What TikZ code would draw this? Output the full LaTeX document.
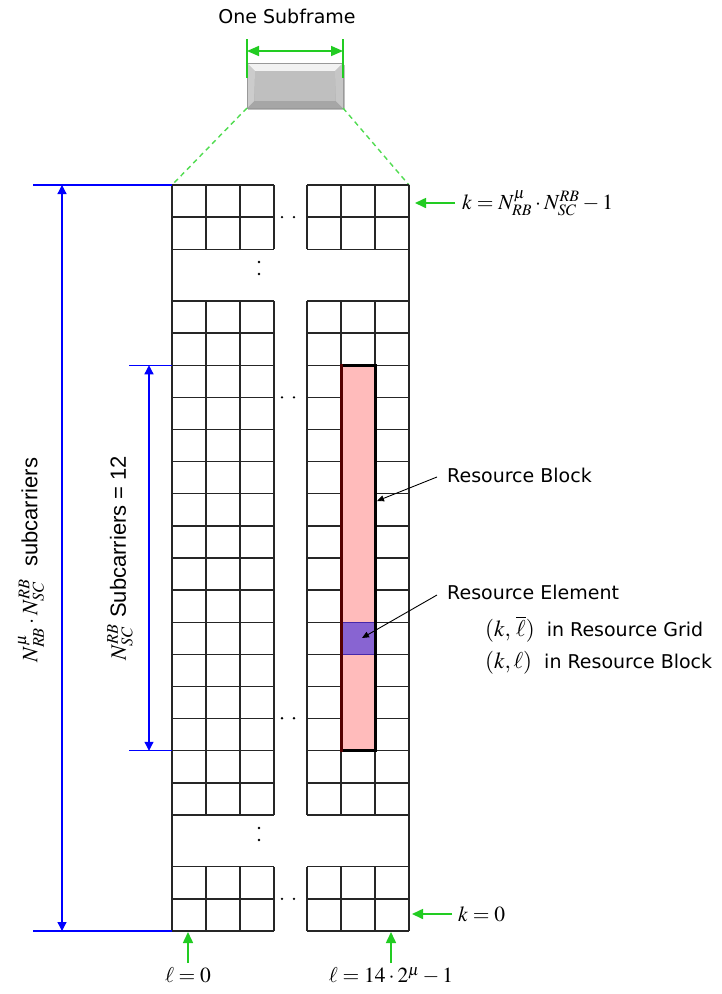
\documentclass[tikz,border=0pt]{standalone}
\usepackage{mathptmx}
\usepackage{fontspec}
\setmainfont{DejaVu Sans}
\newfontfamily\arialf{Liberation Sans}
\usetikzlibrary{arrows.meta}
\definecolor{gr}{RGB}{34,204,34}
\definecolor{grd}{RGB}{80,220,80}
\definecolor{bl}{RGB}{0,0,255}
\definecolor{pinkf}{RGB}{255,187,187}
\definecolor{maroonb}{RGB}{85,0,0}
\definecolor{purf}{RGB}{136,100,210}
\definecolor{purb}{RGB}{70,40,170}
\def\cw{34}
\def\ch{32.125}
\newcommand\gblock[3]{%
  \foreach \i in {0,...,#3} \draw[gl] (#1,{#2+\i*\ch}) -- ({#1+3*\cw},{#2+\i*\ch});
  \foreach \j in {0,...,3} \draw[gl] ({#1+\j*\cw},#2) -- ({#1+\j*\cw},{#2+#3*\ch});
}
\newcommand\mybigmath[1]{{\fontsize{23}{26}\selectfont$#1$}}
\tikzset{
  gl/.style={line width=1.3pt, black!85},
  lbl/.style={font=\fontsize{19}{22}\selectfont, inner sep=0pt},
  mlbl/.style={font=\fontsize{21.5}{24}\selectfont, inner sep=0pt},
  rlbl/.style={font=\arialf\fontsize{22}{26}\selectfont, inner sep=0pt, rotate=90},
  garrow/.style={draw=gr, line width=1.6pt, -{Triangle[length=11pt,width=10pt]}},
  barrow/.style={draw=bl, line width=1.3pt, {Triangle[length=9pt,width=9pt]}-{Triangle[length=9pt,width=9pt]}},
  btick/.style={draw=bl, line width=1.3pt},
  carrow/.style={draw=black, line width=0.9pt, -{Triangle[length=7pt,width=6pt]}},
  dotm/.style={fill=black, circle, inner sep=0pt, minimum size=2.6pt},
}
\begin{document}
\begin{tikzpicture}[x=1pt,y=-1pt]
\useasboundingbox (0,0) rectangle (721,994);
\fill[white] (0,0) rectangle (721,994);

% ---- subframe box
\fill[black!25] (248,65) rectangle (345,110);
\fill[gray!55] (247,63) rectangle (343,108);
\fill[gray!10] (247,63) -- (343,63) -- (335,71) -- (255,71) -- cycle;
\fill[gray!70] (247,108) -- (343,108) -- (336,101) -- (254,101) -- cycle;
\fill[gray!45] (343,63) -- (343,108) -- (336,101) -- (335,71) -- cycle;
\fill[gray!40] (247,63) -- (247,108) -- (254,101) -- (255,71) -- cycle;
\fill[gray!50] (255,71) rectangle (335,101);
\draw[gray!80, line width=0.8pt] (247,63) rectangle (343,108);
\node[lbl] (title) at (287,16) {One Subframe};
\coordinate (sfl) at (247,51);
\coordinate (sfr) at (343,51);
\draw[gr, line width=1.6pt] (247,39) -- (247,78);
\draw[gr, line width=1.6pt] (343,39) -- (343,78);
\draw[draw=gr, line width=1.6pt, {Triangle[length=12pt,width=10pt]}-{Triangle[length=12pt,width=10pt]}] (sfl) -- (sfr);
\coordinate (sfbl) at (247,108);
\coordinate (sfbr) at (343,108);
\coordinate (gtl) at (172,185);
\coordinate (gtr) at (409,185);
\draw[grd, line width=1.4pt, dash pattern=on 5pt off 4pt] (sfbl) -- (gtl);
\draw[grd, line width=1.4pt, dash pattern=on 5pt off 4pt] (sfbr) -- (gtr);

% ---- grid
\gblock{172}{185}{2}
\gblock{307}{185}{2}
\gblock{172}{301}{16}
\gblock{307}{301}{16}
\gblock{172}{866.75}{2}
\gblock{307}{866.75}{2}
\draw[gl] (172,185) -- (172,931);
\draw[gl] (409,185) -- (409,931);

% ---- resource block
\fill[pinkf] (341,365.25) rectangle (375,750.75);
\fill[purf] (341,622.25) rectangle (375,654.375);
\draw[purb, line width=0.8pt] (341,622.25) rectangle (375,654.375);
\draw[black, line width=3pt] (341,365.25) rectangle (375,750.75);
\draw[maroonb, line width=3pt] (341,363.75) -- (341,752.25);

% ---- dots
\foreach \yy in {217.1,397.4,718.25,898.9} {
  \node[dotm] at (282,\yy) {};
  \node[dotm] at (294,\yy) {};
}
\foreach \yy in {262,274,828,840} {
  \node[dotm] at (259,\yy) {};
}

% ---- blue dimension arrows
\coordinate (bt1) at (33,185);
\coordinate (bt2) at (172,185);
\coordinate (bb1) at (33,931);
\coordinate (bb2) at (172,931);
\draw[btick] (bt1) -- (bt2);
\draw[btick] (bb1) -- (bb2);
\coordinate (ba1) at (62,185);
\coordinate (ba2) at (62,931);
\draw[barrow] (ba1) -- (ba2);
\coordinate (st1) at (129,365.25);
\coordinate (st2) at (172,365.25);
\coordinate (sb1) at (129,750.75);
\coordinate (sb2) at (172,750.75);
\draw[btick] (st1) -- (st2);
\draw[btick] (sb1) -- (sb2);
\coordinate (sa1) at (149,365.25);
\coordinate (sa2) at (149,750.75);
\draw[barrow] (sa1) -- (sa2);

\node[rlbl] (tot) at (31,560) {$N^{\mu}_{RB}\cdot N^{RB}_{SC}$\ \ subcarriers};
\node[rlbl] (twelve) at (120,558) {$N^{RB}_{SC}$ Subcarriers = 12};

% ---- green index arrows
\node[mlbl, anchor=west] (ktop) at (462,203) {$k=N^{\mu}_{RB}\cdot N^{RB}_{SC}-1$};
\coordinate (kta) at (455,203);
\coordinate (ktb) at (415,203);
\draw[garrow] (kta) -- (ktb);
\node[mlbl, anchor=west] (kbot) at (458,914) {$k=0$};
\coordinate (kba) at (452,914);
\coordinate (kbb) at (412,914);
\draw[garrow] (kba) -- (kbb);
\node[mlbl] (l0) at (188,975) {$\ell=0$};
\coordinate (l0a) at (188,963);
\coordinate (l0b) at (188,932);
\draw[garrow] (l0a) -- (l0b);
\node[mlbl] (lmax) at (391,976) {$\ell=14\cdot 2^{\mu}-1$};
\coordinate (lma) at (391,963);
\coordinate (lmb) at (391,932);
\draw[garrow] (lma) -- (lmb);

% ---- callouts
\node[lbl, anchor=west] (rb) at (447,475) {Resource Block};
\coordinate (rba) at (437,477);
\coordinate (rbb) at (377,501);
\draw[carrow] (rba) -- (rbb);
\node[lbl, anchor=west] (re) at (447,592) {Resource Element};
\coordinate (rea) at (437,595);
\coordinate (reb) at (362,638);
\draw[carrow] (rea) -- (reb);
\node[lbl, anchor=west] (rg) at (485,629) {\mybigmath{(k,\,\overline{\ell})}\ \ in Resource Grid};
\node[lbl, anchor=west] (rbk) at (485,663) {\mybigmath{(k,\ell)}\ \ in Resource Block};
\end{tikzpicture}
\end{document}
